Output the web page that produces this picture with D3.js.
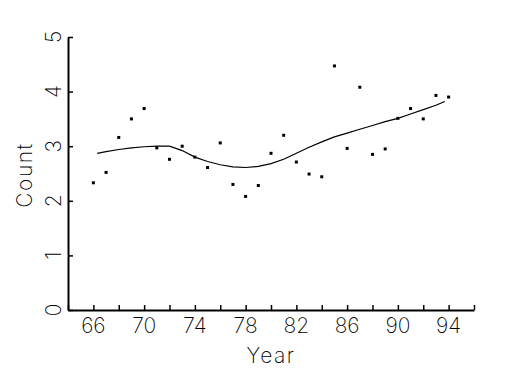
<!DOCTYPE html>
<html>
<head>
<meta charset="utf-8">
<script src="https://cdn.jsdelivr.net/npm/d3@7"></script>
<style>
  body { margin: 0; background: #fff; }
  svg text { font-family: Inter, "DejaVu Sans", sans-serif; font-weight: 250; fill: #000; }
</style>
</head>
<body>
<div id="chart"></div>
<script>
const years = [66, 67, 68, 69, 70, 71, 72, 73, 74, 75, 76, 77, 78, 79, 80,
  81, 82, 83, 84, 85, 86, 87, 88, 89, 90, 91, 92, 93, 94];
const counts = [2.33, 2.52, 3.16, 3.50, 3.69, 2.97, 2.76, 3.00, 2.80, 2.61, 3.06, 2.30, 2.08, 2.28, 2.87,
  3.20, 2.71, 2.49, 2.44, 4.47, 2.96, 4.08, 2.85, 2.95, 3.51, 3.69, 3.50, 3.93, 3.90];

// smoothed trend
const smoothYears = [66.3, 67, 68, 69, 70, 71, 72, 73, 74, 75, 76, 77, 78, 79, 80,
  81, 82, 83, 84, 85, 86, 87, 88, 89, 90, 91, 92, 93, 93.7];
const smoothCounts = [2.87, 2.90, 2.94, 2.97, 2.99, 3.00, 3.00, 2.92, 2.80, 2.72, 2.66, 2.62, 2.61, 2.63, 2.68,
  2.76, 2.87, 2.98, 3.08, 3.17, 3.24, 3.31, 3.38, 3.45, 3.51, 3.59, 3.67, 3.75, 3.82];

const xTicks = d3.range(64, 97, 2);
const xLabels = [66, 70, 74, 78, 82, 86, 90, 94];
const yTicks = [0, 1, 2, 3, 4, 5];

const width = 525, height = 375;
const margin = { top: 37, right: 51, bottom: 65, left: 68 };

const svg = d3.select('#chart')
  .append('svg')
  .attr('width', width)
  .attr('height', height);

const x = d3.scaleLinear()
  .domain([64, 96])
  .range([margin.left, width - margin.right]);

const y = d3.scaleLinear()
  .domain([0, 5])
  .range([height - margin.bottom, margin.top]);

// x axis, ticks pointing up
const xAxis = svg.append('g')
  .attr('transform', `translate(0, ${y(0)})`)
  .call(d3.axisTop(x).tickValues(xTicks).tickSize(5).tickFormat('').tickSizeOuter(0));
xAxis.select('.domain').attr('stroke-width', 2);
xAxis.selectAll('.tick line').attr('stroke-width', 1.5);

svg.append('g')
  .selectAll('text')
  .data(xLabels)
  .join('text')
  .attr('x', d => x(d))
  .attr('y', y(0) + 23)
  .attr('text-anchor', 'middle')
  .attr('font-size', 21)
  .text(d => d);

// y axis, ticks pointing right
const yAxis = svg.append('g')
  .attr('transform', `translate(${x(64)}, 0)`)
  .call(d3.axisRight(y).tickValues(yTicks).tickSize(5).tickFormat('').tickSizeOuter(0));
yAxis.select('.domain').attr('stroke-width', 2);
yAxis.selectAll('.tick line').attr('stroke-width', 1.5);

svg.append('g')
  .selectAll('text')
  .data(yTicks)
  .join('text')
  .attr('transform', d => `translate(${x(64) - 7}, ${y(d)}) rotate(-90)`)
  .attr('text-anchor', 'middle')
  .attr('font-size', 21)
  .text(d => d);

svg.append('text')
  .attr('x', 271)
  .attr('y', 363)
  .attr('text-anchor', 'middle')
  .attr('font-size', 21)
  .attr('letter-spacing', 1.5)
  .text('Year');

svg.append('text')
  .attr('transform', `translate(32, 175) rotate(-90)`)
  .attr('text-anchor', 'middle')
  .attr('font-size', 21)
  .attr('letter-spacing', 1.5)
  .text('Count');

// points
svg.append('g')
  .selectAll('rect')
  .data(years)
  .join('rect')
  .attr('x', (d) => x(d) - 1.5)
  .attr('y', (d, i) => y(counts[i]) - 1.5)
  .attr('width', 3)
  .attr('height', 3)
  .attr('fill', '#000');

// trend line
const line = d3.line()
  .x((d, i) => x(smoothYears[i]))
  .y(d => y(d));

svg.append('path')
  .datum(smoothCounts)
  .attr('d', line)
  .attr('fill', 'none')
  .attr('stroke', '#000')
  .attr('stroke-width', 1.2);
</script>
</body>
</html>
